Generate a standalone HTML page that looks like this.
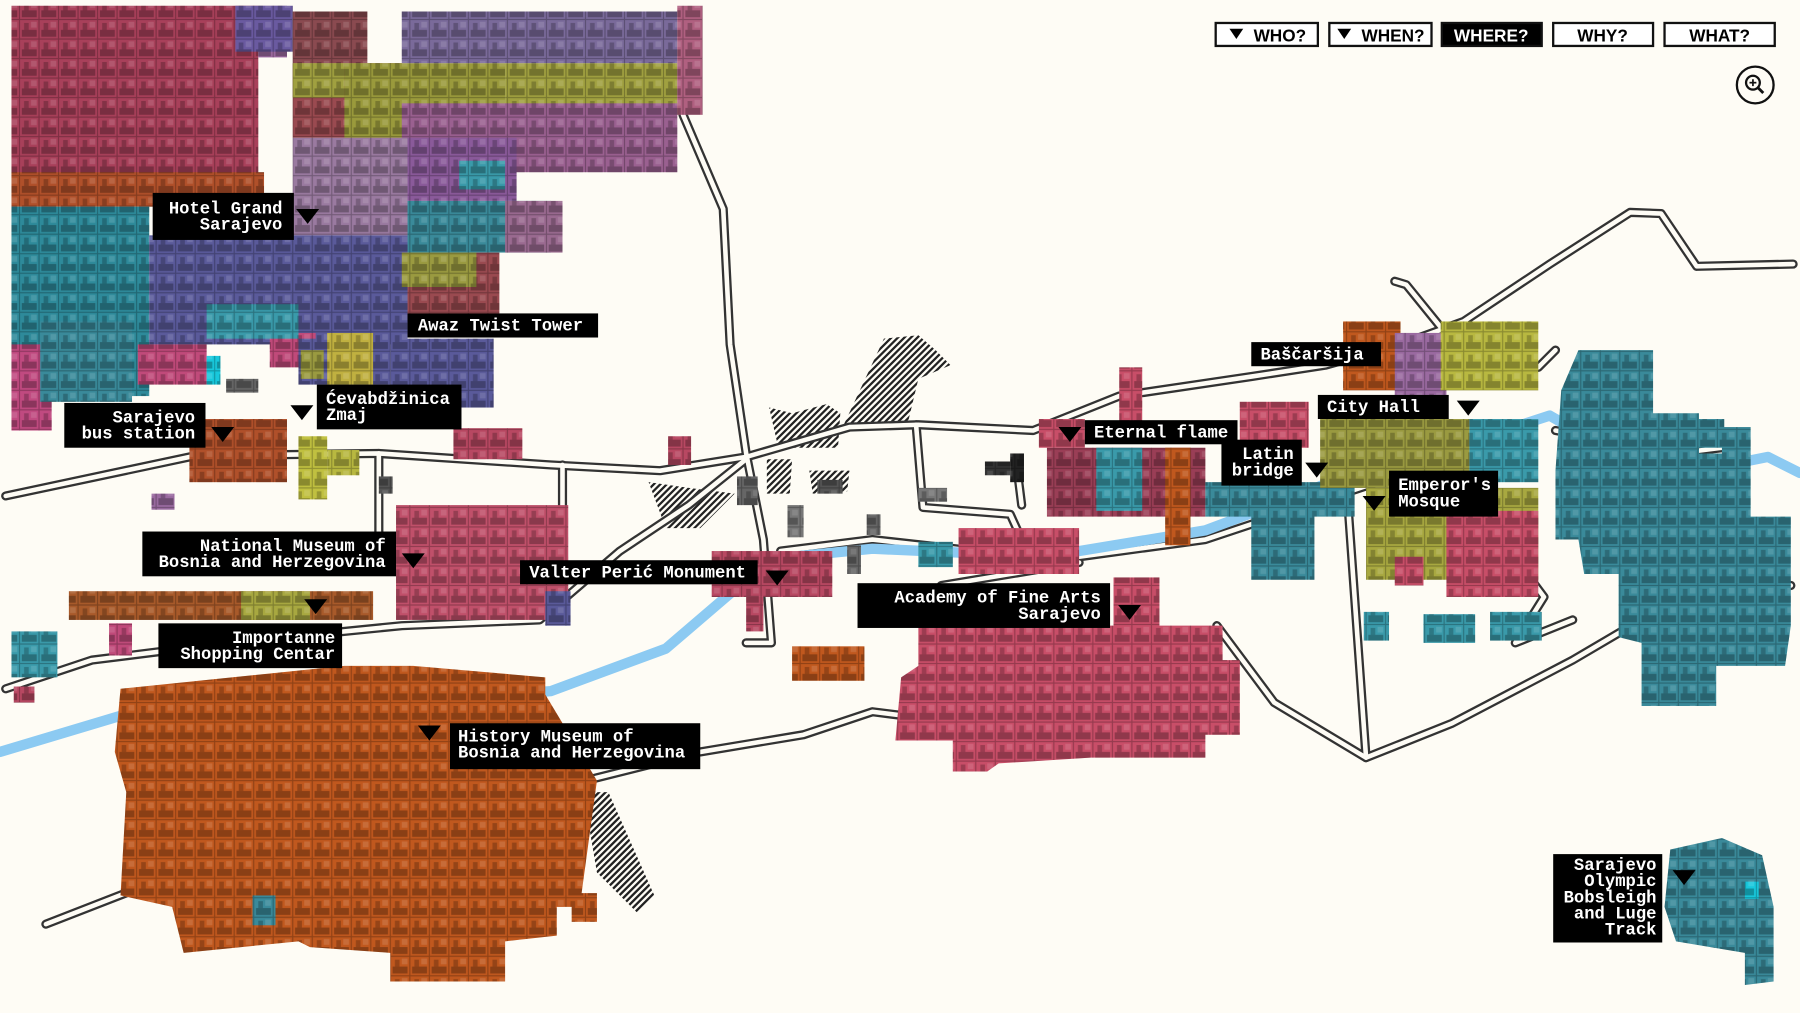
<!DOCTYPE html>
<html><head><meta charset="utf-8"><style>
html,body{margin:0;padding:0;background:#fefcf5;}
svg{display:block}
.l{font-family:"Liberation Mono",monospace;font-size:15px;fill:#fff;font-weight:bold}
.b{font-family:"Liberation Sans",sans-serif;font-weight:bold;font-size:15px}
</style></head><body>
<svg width="1800" height="1013" viewBox="0 0 1568 882.4" xmlns="http://www.w3.org/2000/svg" xmlns:xlink="http://www.w3.org/1999/xlink">
<defs>
<pattern id="t" width="17" height="17" patternUnits="userSpaceOnUse">
<rect width="17" height="17" fill="none" stroke="#000" stroke-opacity=".25" stroke-width="1"/>
<rect x="2" y="9" width="13" height="6" fill="#000" opacity=".28"/>
<rect x="4" y="3" width="4" height="6" fill="#000" opacity=".22"/>
<rect x="10" y="2" width="5" height="5" fill="#fff" opacity=".12"/>
</pattern>
<pattern id="h" width="4" height="4" patternUnits="userSpaceOnUse" patternTransform="rotate(45)">
<rect width="2" height="4" fill="#222"/></pattern>
<filter id="wf" filterUnits="userSpaceOnUse" x="0" y="0" width="1568" height="883">
<feColorMatrix type="matrix" values="0 0 0 0 1  0 0 0 0 1  0 0 0 0 1  0 0 0 1 0"/>
</filter>
<mask id="m" maskUnits="userSpaceOnUse" x="0" y="0" width="1568" height="883">
<use xlink:href="#cl" href="#cl" filter="url(#wf)"/>
</mask>
</defs>
<rect width="1568" height="882.4" fill="#fefcf5"/>

<!-- hatched areas -->
<g fill="url(#h)">
<polygon points="670,355 690,360 720,352 732,360 730,390 678,390"/>
<polygon points="735,370 770,295 800,292 815,305 828,318 800,330 790,372"/>
<polygon points="565,420 600,425 640,430 610,460 580,460"/>
<polygon points="668,400 690,400 688,430 668,430"/>
<polygon points="705,410 740,410 738,428 708,430"/>
<polygon points="508,690 530,690 570,780 555,795 520,760"/>
</g>

<!-- roads -->
<g fill="none" stroke-linejoin="round" stroke-linecap="round">
<g stroke="#333" stroke-width="8">
<path d="M595,100 L630,182 L636,300 L650,395 L665,470 L672,560 L650,560"/>
<path d="M5,432 L170,397 L330,395 L480,405 L575,410 L650,398 L740,372 L800,370 L900,375 L975,345 L1090,328 L1155,318 L1220,300 L1275,280 L1350,230 L1420,185 L1447,186 L1478,232 L1562,230"/>
<path d="M1215,245 L1225,248 L1255,285"/>
<path d="M650,400 L600,440 L540,480 L470,540 L350,545 L200,560 L80,575 L5,600"/>
<path d="M610,655 L700,640 L760,620 L800,625"/>
<path d="M40,805 L130,770 L200,748 L300,740"/>
<path d="M330,395 L330,470 M490,405 L490,480 M798,370 L804,442 L880,448 L890,470 M885,400 L890,440"/>
<path d="M680,480 L760,470 L850,480 L940,485 L1050,470 L1140,440 L1200,420 L1260,400"/>
<path d="M820,510 L880,500 L940,490 M1060,545 L1110,612 L1190,660 L1265,630 L1370,575 L1455,525 L1560,510"/>
<path d="M1160,360 L1175,450 L1180,520 L1190,660 M1250,480 L1330,500 L1345,520 L1320,560 L1370,540"/>
<path d="M1340,320 L1355,305 M1355,375 L1410,385 L1460,395 L1500,390"/>
<path d="M300,740 L330,730 M590,660 L470,690"/>
</g>
<g stroke="#fefcf5" stroke-width="4">
<path d="M595,100 L630,182 L636,300 L650,395 L665,470 L672,560 L650,560"/>
<path d="M5,432 L170,397 L330,395 L480,405 L575,410 L650,398 L740,372 L800,370 L900,375 L975,345 L1090,328 L1155,318 L1220,300 L1275,280 L1350,230 L1420,185 L1447,186 L1478,232 L1562,230"/>
<path d="M1215,245 L1225,248 L1255,285"/>
<path d="M650,400 L600,440 L540,480 L470,540 L350,545 L200,560 L80,575 L5,600"/>
<path d="M610,655 L700,640 L760,620 L800,625"/>
<path d="M40,805 L130,770 L200,748 L300,740"/>
<path d="M330,395 L330,470 M490,405 L490,480 M798,370 L804,442 L880,448 L890,470 M885,400 L890,440"/>
<path d="M680,480 L760,470 L850,480 L940,485 L1050,470 L1140,440 L1200,420 L1260,400"/>
<path d="M820,510 L880,500 L940,490 M1060,545 L1110,612 L1190,660 L1265,630 L1370,575 L1455,525 L1560,510"/>
<path d="M1160,360 L1175,450 L1180,520 L1190,660 M1250,480 L1330,500 L1345,520 L1320,560 L1370,540"/>
<path d="M1340,320 L1355,305 M1355,375 L1410,385 L1460,395 L1500,390"/>
<path d="M300,740 L330,730 M590,660 L470,690"/>
</g>
<path d="M0,655 L110,622 L300,615 L480,602 L580,565 L650,505 L690,485 L760,478 L850,482 L940,480 L1050,462 L1130,432 L1200,402 L1270,388 L1350,362 L1420,402 L1480,410 L1540,398 L1568,412" stroke="#8ccaf2" stroke-width="9"/>
</g>

<!-- tile clusters -->
<g id="cl">
<rect x="10" y="5" width="215" height="150" fill="#a8405a"/>
<rect x="10" y="150" width="220" height="30" fill="#b0502a"/>
<rect x="225" y="5" width="25" height="45" fill="#9c6aa0"/>
<rect x="205" y="5" width="50" height="40" fill="#6a5aa0"/>
<rect x="255" y="10" width="65" height="45" fill="#8a4a50"/>
<rect x="255" y="55" width="95" height="65" fill="#9a4a50"/>
<rect x="255" y="55" width="45" height="30" fill="#a0a040"/>
<rect x="300" y="55" width="140" height="65" fill="#9a9a3c"/>
<rect x="440" y="55" width="150" height="45" fill="#a0a040"/>
<rect x="350" y="10" width="240" height="45" fill="#7a6a9a"/>
<rect x="350" y="90" width="240" height="60" fill="#9a6090"/>
<rect x="590" y="5" width="22" height="95" fill="#b06080"/>
<rect x="255" y="120" width="100" height="85" fill="#9a7aa0"/>
<rect x="355" y="120" width="95" height="55" fill="#8a5a9a"/>
<rect x="400" y="140" width="40" height="25" fill="#3a9aaa"/>
<rect x="355" y="175" width="125" height="45" fill="#3a8a9a"/>
<rect x="440" y="175" width="50" height="45" fill="#9a6a90"/>
<rect x="10" y="180" width="120" height="165" fill="#2e8a9a"/>
<rect x="130" y="205" width="225" height="95" fill="#5a5a9a"/>
<rect x="355" y="220" width="80" height="60" fill="#9a4a50"/>
<rect x="350" y="220" width="65" height="30" fill="#9a9a40"/>
<rect x="10" y="300" width="35" height="75" fill="#c04a80"/>
<rect x="35" y="280" width="80" height="70" fill="#3a8a9a"/>
<rect x="120" y="300" width="60" height="35" fill="#c04a7a"/>
<rect x="180" y="310" width="12" height="25" fill="#18c8dc"/>
<rect x="235" y="290" width="40" height="30" fill="#c04a7a"/>
<rect x="180" y="265" width="80" height="30" fill="#3a9aaa"/>
<rect x="260" y="295" width="80" height="40" fill="#5a5a9a"/>
<rect x="340" y="295" width="90" height="60" fill="#5a5a9a"/>
<rect x="285" y="290" width="40" height="45" fill="#c0b040"/>
<rect x="262" y="305" width="20" height="25" fill="#9a9a40"/>
<rect x="260" y="380" width="25" height="55" fill="#c0c040"/>
<rect x="285" y="392" width="28" height="22" fill="#b8b840"/>
<rect x="165" y="365" width="85" height="55" fill="#b0502a"/>
<rect x="395" y="373" width="60" height="27" fill="#b84862"/>
<rect x="582" y="380" width="20" height="25" fill="#b84862"/>
<rect x="132" y="430" width="20" height="14" fill="#9a6aa0"/>
<rect x="345" y="440" width="150" height="100" fill="#c0506a"/>
<rect x="475" y="515" width="22" height="30" fill="#5a5a9a"/>
<rect x="60" y="515" width="265" height="25" fill="#a85a2a"/>
<rect x="210" y="515" width="60" height="25" fill="#a8a840"/>
<rect x="95" y="543" width="20" height="28" fill="#c04a7a"/>
<rect x="10" y="550" width="40" height="40" fill="#3a9aaa"/>
<rect x="12" y="598" width="18" height="14" fill="#b84862"/>
<polygon points="105,600 300,580 360,580 475,590 475,605 520,680 505,790 485,790 485,815 440,820 440,855 340,855 340,830 270,825 260,820 160,830 150,790 105,780 110,690 100,655" fill="#c0581e"/>
<rect x="220" y="780" width="20" height="26" fill="#3a8a9a"/>
<rect x="498" y="778" width="22" height="25" fill="#c0581e"/>
<rect x="620" y="480" width="105" height="40" fill="#b84862"/>
<rect x="650" y="520" width="15" height="30" fill="#b84862"/>
<rect x="690" y="563" width="63" height="30" fill="#c0581e"/>
<rect x="835" y="460" width="105" height="40" fill="#c84e68"/>
<rect x="800" y="472" width="30" height="22" fill="#3a9aaa"/>
<polygon points="800,545 1065,545 1065,575 1080,575 1080,640 1050,640 1050,660 950,660 870,665 860,672 830,672 830,645 780,645 785,590 800,580" fill="#c84e68"/>
<rect x="970" y="503" width="40" height="45" fill="#c84e68"/>
<rect x="975" y="320" width="20" height="50" fill="#c84e68"/>
<rect x="1080" y="350" width="60" height="40" fill="#c84e68"/>
<rect x="905" y="365" width="40" height="25" fill="#c84e68"/>
<rect x="912" y="390" width="138" height="60" fill="#9a3e56"/>
<rect x="955" y="390" width="40" height="55" fill="#3a9aaa"/>
<rect x="1015" y="390" width="22" height="85" fill="#c0581e"/>
<rect x="1050" y="420" width="130" height="30" fill="#3a8a9a"/>
<rect x="1090" y="440" width="55" height="65" fill="#3a8a9a"/>
<rect x="1170" y="280" width="50" height="60" fill="#c0581e"/>
<rect x="1215" y="290" width="45" height="60" fill="#9a6aa0"/>
<rect x="1255" y="280" width="85" height="60" fill="#b8b840"/>
<rect x="1150" y="365" width="130" height="60" fill="#9a9a40"/>
<rect x="1190" y="425" width="150" height="80" fill="#a8a840"/>
<rect x="1260" y="445" width="80" height="75" fill="#c84e68"/>
<rect x="1280" y="365" width="60" height="55" fill="#3a9aaa"/>
<rect x="1215" y="485" width="25" height="25" fill="#c84e68"/>
<rect x="1188" y="533" width="22" height="25" fill="#3a9aaa"/>
<rect x="1240" y="535" width="45" height="25" fill="#3a9aaa"/>
<rect x="1298" y="533" width="45" height="25" fill="#3a9aaa"/>
<polygon points="1375,305 1440,305 1440,360 1480,360 1480,395 1525,395 1525,450 1560,450 1560,545 1555,580 1495,580 1495,615 1430,615 1430,560 1410,555 1410,500 1380,500 1375,470 1355,470 1355,410 1360,340" fill="#3a8a9a"/>
<rect x="1480" y="365" width="22" height="25" fill="#3a8a9a"/>
<rect x="1500" y="372" width="25" height="25" fill="#3a8a9a"/>
<polygon points="1455,740 1500,730 1535,745 1545,790 1545,855 1520,858 1520,830 1460,820 1450,790" fill="#3a8a9a"/>
<rect x="1520" y="768" width="12" height="15" fill="#18c8dc"/>
<rect x="197" y="330" width="28" height="12" fill="#666"/>
<rect x="330" y="415" width="12" height="15" fill="#555"/>
<rect x="642" y="415" width="18" height="25" fill="#666"/>
<rect x="686" y="440" width="14" height="28" fill="#777"/>
<rect x="712" y="418" width="22" height="12" fill="#555"/>
<rect x="738" y="475" width="12" height="25" fill="#666"/>
<rect x="755" y="448" width="12" height="18" fill="#666"/>
<rect x="800" y="425" width="25" height="12" fill="#777"/>
<rect x="858" y="402" width="22" height="12" fill="#333"/>
<rect x="880" y="395" width="12" height="25" fill="#222"/>
</g>
<!-- tile texture overlay masked to clusters -->
<rect x="0" y="0" width="1568" height="883" fill="url(#t)" mask="url(#m)"/>

<!-- labels -->
<g>
<rect x="133" y="168" width="123" height="41"/><text class="l" x="246" y="186" text-anchor="end">Hotel Grand</text><text class="l" x="246" y="200" text-anchor="end">Sarajevo</text>
<polygon points="258,182 278,182 268,195"/>
<rect x="355" y="273" width="166" height="21"/><text class="l" x="364" y="288">Awaz Twist Tower</text>
<rect x="276" y="335" width="126" height="39"/><text class="l" x="284" y="352">Ćevabdžinica</text><text class="l" x="284" y="366">Zmaj</text>
<polygon points="253,353 273,353 263,366"/>
<rect x="56" y="351" width="123" height="39"/><text class="l" x="170" y="368" text-anchor="end">Sarajevo</text><text class="l" x="170" y="382" text-anchor="end">bus station</text>
<polygon points="184,372 204,372 194,385"/>
<rect x="124" y="463" width="221" height="39"/><text class="l" x="336" y="480" text-anchor="end">National Museum of</text><text class="l" x="336" y="494" text-anchor="end">Bosnia and Herzegovina</text>
<polygon points="350,482 370,482 360,495"/>
<rect x="453" y="488" width="207" height="21"/><text class="l" x="461" y="503">Valter Perić Monument</text>
<polygon points="667,497 687,497 677,510"/>
<rect x="138" y="543" width="160" height="39"/><text class="l" x="292" y="560" text-anchor="end">Importanne</text><text class="l" x="292" y="574" text-anchor="end">Shopping Centar</text>
<polygon points="265,522 285,522 275,535"/>
<rect x="392" y="630" width="218" height="40"/><text class="l" x="399" y="646">History Museum of</text><text class="l" x="399" y="660">Bosnia and Herzegovina</text>
<polygon points="364,632 384,632 374,645"/>
<rect x="747" y="508" width="220" height="39"/><text class="l" x="959" y="525" text-anchor="end">Academy of Fine Arts</text><text class="l" x="959" y="539" text-anchor="end">Sarajevo</text>
<polygon points="974,527 994,527 984,540"/>
<rect x="945" y="366" width="133" height="21"/><text class="l" x="953" y="381">Eternal flame</text>
<polygon points="922,372 942,372 932,385"/>
<rect x="1090" y="298" width="113" height="21"/><text class="l" x="1098" y="313">Baščaršija</text>
<rect x="1148" y="344" width="114" height="21"/><text class="l" x="1156" y="359">City Hall</text>
<polygon points="1269,349 1289,349 1279,362"/>
<rect x="1064" y="383" width="70" height="40"/><text class="l" x="1127" y="400" text-anchor="end">Latin</text><text class="l" x="1127" y="414" text-anchor="end">bridge</text>
<polygon points="1137,403 1157,403 1147,416"/>
<rect x="1210" y="410" width="95" height="40"/><text class="l" x="1218" y="427">Emperor's</text><text class="l" x="1218" y="441">Mosque</text>
<polygon points="1187,432 1207,432 1197,445"/>
<rect x="1353" y="744" width="95" height="77"/>
<text class="l" x="1443" y="758" text-anchor="end">Sarajevo</text><text class="l" x="1443" y="772" text-anchor="end">Olympic</text><text class="l" x="1443" y="786" text-anchor="end">Bobsleigh</text><text class="l" x="1443" y="800" text-anchor="end">and Luge</text><text class="l" x="1443" y="814" text-anchor="end">Track</text>
<polygon points="1457,758 1477,758 1467,771"/>
</g>

<!-- nav buttons -->
<g stroke="#111" stroke-width="2">
<rect x="1059" y="20" width="89" height="20" fill="#fff"/>
<rect x="1158" y="20" width="89" height="20" fill="#fff"/>
<rect x="1256" y="20" width="87" height="20" fill="#000"/>
<rect x="1353" y="20" width="87" height="20" fill="#fff"/>
<rect x="1450" y="20" width="96" height="20" fill="#fff"/>
</g>
<polygon points="1071,25 1083,25 1077,34"/><text class="b" x="1092" y="36">WHO?</text>
<polygon points="1165,25 1177,25 1171,34"/><text class="b" x="1186" y="36">WHEN?</text>
<text class="b" x="1299" y="36" fill="#fff" text-anchor="middle">WHERE?</text>
<text class="b" x="1396" y="36" text-anchor="middle">WHY?</text>
<text class="b" x="1498" y="36" text-anchor="middle">WHAT?</text>
<circle cx="1529" cy="74" r="16" fill="none" stroke="#111" stroke-width="2"/>
<circle cx="1527" cy="72" r="6" fill="none" stroke="#111" stroke-width="2"/>
<line x1="1531" y1="76" x2="1536" y2="81" stroke="#111" stroke-width="2.5"/>
<line x1="1524" y1="72" x2="1530" y2="72" stroke="#111" stroke-width="1.5"/>
<line x1="1527" y1="69" x2="1527" y2="75" stroke="#111" stroke-width="1.5"/>
</svg>
</body></html>
